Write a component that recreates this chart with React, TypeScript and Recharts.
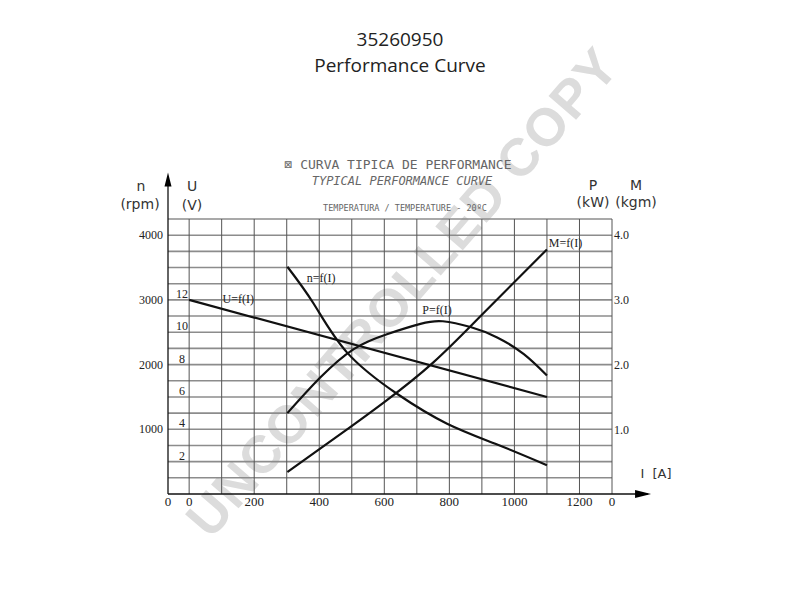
import React from 'react';
import { ComposedChart, Line, XAxis, YAxis, ReferenceLine, ReferenceDot } from 'recharts';

// ---- axes / ticks ----
const currentTicks = [0, 200, 400, 600, 800, 1000, 1200];
const currentDomain: [number, number] = [-65, 1300];
const rpmTicks = [1000, 2000, 3000, 4000];
const rpmDomain: [number, number] = [0, 4250];
const voltTicks = [2, 4, 6, 8, 10, 12];
const rpmPerVolt = 250;
const powerTicks = [1.0, 2.0, 3.0, 4.0];
const powerDomain: [number, number] = [0, 4.25];

// ---- series ----
const voltageData = [
  { I: 0, v: 12 },
  { I: 1100, v: 6 },
];
const speedData = [
  { I: 302, v: 3512 },
  { I: 383, v: 2940 },
  { I: 485, v: 2189 },
  { I: 639, v: 1549 },
  { I: 793, v: 1087 },
  { I: 947, v: 765 },
  { I: 1100, v: 446 },
];
const powerData = [
  { I: 302, v: 1.25 },
  { I: 403, v: 1.8 },
  { I: 506, v: 2.24 },
  { I: 608, v: 2.47 },
  { I: 711, v: 2.63 },
  { I: 780, v: 2.67 },
  { I: 865, v: 2.58 },
  { I: 947, v: 2.42 },
  { I: 1029, v: 2.16 },
  { I: 1100, v: 1.83 },
];
const torqueData = [
  { I: 302, v: 0.34 },
  { I: 450, v: 0.87 },
  { I: 600, v: 1.42 },
  { I: 750, v: 2.03 },
  { I: 900, v: 2.77 },
  { I: 1100, v: 3.78 },
];

// ---- curve labels (data coords) ----
const curveLabels = [
  { text: 'U=f(I)', I: 151, y: 3015, axis: 'n' },
  { text: 'n=f(I)', I: 406, y: 3338, axis: 'n' },
  { text: 'P=f(I)', I: 762, y: 2.85, axis: 'pm' },
  { text: 'M=f(I)', I: 1157, y: 3.88, axis: 'pm' },
];

const gridCurrent: number[] = [];
for (let v = 0; v <= currentDomain[1]; v += 100) gridCurrent.push(v);
const gridRpm: number[] = [];
for (let v = 250; v <= rpmDomain[1]; v += 250) gridRpm.push(v);

const axisTipCurrent = 1420;
const axisTipRpm = 4970;

const leftTicks = Array.from(new Set([...rpmTicks, ...voltTicks.map((u) => u * rpmPerVolt)])).sort((a, b) => a - b);

const tickFont = 'Liberation Serif, DejaVu Serif, serif';

const LeftTick = (props: any) => {
  const { x, y, payload } = props;
  const v = payload.value;
  const u = v / rpmPerVolt;
  return (
    <g>
      {rpmTicks.includes(v) && (
        <text x={x} y={y} dy={4} textAnchor="end" fontSize={12} fontFamily={tickFont} fill="#222">
          {v}
        </text>
      )}
      {voltTicks.includes(u) && (
        <text x={x + 19} y={y - 6} dy={4} textAnchor="middle" fontSize={12} fontFamily={tickFont} fill="#222">
          {u}
        </text>
      )}
    </g>
  );
};

const ArrowRight = (p: any) => (
  <polygon points={`${p.cx},${p.cy} ${p.cx - 16},${p.cy - 4} ${p.cx - 16},${p.cy + 4}`} fill="#000" />
);
const ArrowUp = (p: any) => (
  <polygon points={`${p.cx},${p.cy} ${p.cx - 3.5},${p.cy + 14} ${p.cx + 3.5},${p.cy + 14}`} fill="#000" />
);

const abs = (left: number, top: number, extra: React.CSSProperties = {}): React.CSSProperties => ({
  position: 'absolute',
  left,
  top,
  transform: 'translate(-50%, -50%)',
  whiteSpace: 'nowrap',
  lineHeight: 1,
  ...extra,
});

const unitFont: React.CSSProperties = { fontFamily: 'DejaVu Sans, sans-serif', fontSize: 14, color: '#333' };

export default function App() {
  return (
    <div style={{ position: 'absolute', left: 0, top: 0, width: 800, height: 600, background: '#fff', overflow: 'hidden' }}>
      {/* watermark */}
      <div
        style={abs(402, 292, {
          transform: 'translate(-50%, -50%) rotate(-49deg)',
          fontFamily: 'Liberation Sans, Arial, sans-serif',
          fontWeight: 'bold',
          fontSize: 53,
          color: '#dcdcdc',
          letterSpacing: 1,
        })}
      >
        UNCONTROLLED COPY
      </div>

      {/* titles */}
      <div style={abs(400, 39, { fontFamily: 'Open Sans, sans-serif', fontSize: 19, color: '#222' })}>35260950</div>
      <div style={abs(400, 65, { fontFamily: 'Open Sans, sans-serif', fontSize: 19, color: '#222' })}>Performance Curve</div>

      <div style={abs(398, 164, { fontFamily: 'DejaVu Sans Mono, monospace', fontSize: 13, color: '#666' })}>
        ⊠ CURVA TIPICA DE PERFORMANCE
      </div>
      <div style={abs(402, 181, { fontFamily: 'DejaVu Sans Mono, monospace', fontSize: 12, color: '#666', fontStyle: 'italic' })}>
        TYPICAL PERFORMANCE CURVE
      </div>
      <div style={abs(405, 208, { fontFamily: 'DejaVu Sans Mono, monospace', fontSize: 8.5, color: '#666' })}>
        TEMPERATURA / TEMPERATURE - 20ºC
      </div>

      {/* axis units */}
      <div style={abs(141, 186, unitFont)}>n</div>
      <div style={abs(140, 204, unitFont)}>(rpm)</div>
      <div style={abs(192, 186, unitFont)}>U</div>
      <div style={abs(192, 205, unitFont)}>(V)</div>
      <div style={abs(593, 185, unitFont)}>P</div>
      <div style={abs(593, 202, unitFont)}>(kW)</div>
      <div style={abs(636, 185, unitFont)}>M</div>
      <div style={abs(636, 202, unitFont)}>(kgm)</div>
      <div style={abs(656, 473, { ...unitFont, fontSize: 13 })}>I&nbsp;&nbsp;[A]</div>

      <div style={{ position: 'absolute', left: 0, top: 0 }}>
        <ComposedChart width={800} height={600} margin={{ top: 219, right: 148, bottom: 76, left: 108 }}>
          <XAxis
            type="number"
            dataKey="I"
            domain={currentDomain}
            ticks={[currentDomain[0], ...currentTicks, currentDomain[1]]}
            tickFormatter={(v: number) => (currentTicks.includes(v) ? String(v) : '0')}
            axisLine={false}
            tickLine={false}
            tickSize={0}
            tickMargin={3}
            height={30}
            interval={0}
            allowDataOverflow
            tick={{ fontSize: 13, fontFamily: tickFont, fill: '#222' }}
          />
          <YAxis
            yAxisId="n"
            orientation="left"
            type="number"
            domain={rpmDomain}
            ticks={leftTicks}
            interval={0}
            axisLine={false}
            tickLine={false}
            tickSize={3}
            tickMargin={2}
            width={60}
            tick={<LeftTick />}
          />
          <YAxis
            yAxisId="pm"
            orientation="right"
            type="number"
            domain={powerDomain}
            ticks={powerTicks}
            interval={0}
            axisLine={false}
            tickLine={false}
            tickSize={0}
            tickMargin={2}
            width={40}
            tickFormatter={(v: number) => v.toFixed(1)}
            tick={{ fontSize: 12, fontFamily: tickFont, fill: '#222', textAnchor: 'start' }}
          />
          <YAxis yAxisId="u" hide type="number" domain={[0, rpmDomain[1] / rpmPerVolt]} />

          {gridRpm.map((v) => (
            <ReferenceLine key={'h' + v} yAxisId="n" y={v} stroke="#8c8c8c" strokeWidth={1.6} />
          ))}
          {gridCurrent.map((v) => (
            <ReferenceLine key={'v' + v} yAxisId="n" x={v} stroke="#555" strokeWidth={1} />
          ))}

          <ReferenceLine
            yAxisId="n"
            segment={[{ x: currentDomain[0], y: 0 }, { x: axisTipCurrent - 10, y: 0 }]}
            ifOverflow="visible"
            stroke="#111"
            strokeWidth={1.3}
          />
          <ReferenceLine
            yAxisId="n"
            segment={[{ x: currentDomain[0], y: 0 }, { x: currentDomain[0], y: axisTipRpm - 100 }]}
            ifOverflow="visible"
            stroke="#111"
            strokeWidth={1.3}
          />
          <ReferenceDot yAxisId="n" x={axisTipCurrent} y={0} r={0} ifOverflow="visible" shape={ArrowRight} />
          <ReferenceDot yAxisId="n" x={currentDomain[0]} y={axisTipRpm} r={0} ifOverflow="visible" shape={ArrowUp} />

          <Line yAxisId="u" data={voltageData} dataKey="v" type="linear" stroke="#111" strokeWidth={2.2} dot={false} isAnimationActive={false} />
          <Line yAxisId="n" data={speedData} dataKey="v" type="natural" stroke="#111" strokeWidth={2.2} dot={false} isAnimationActive={false} />
          <Line yAxisId="pm" data={powerData} dataKey="v" type="natural" stroke="#111" strokeWidth={2.2} dot={false} isAnimationActive={false} />
          <Line yAxisId="pm" data={torqueData} dataKey="v" type="natural" stroke="#111" strokeWidth={2.2} dot={false} isAnimationActive={false} />

          {curveLabels.map((l) => (
            <ReferenceDot
              key={l.text}
              yAxisId={l.axis}
              x={l.I}
              y={l.y}
              r={0}
              ifOverflow="visible"
              shape={(p: any) => (
                <text x={p.cx} y={p.cy} dy={4} textAnchor="middle" fontSize={12} fontFamily={tickFont} fill="#222">
                  {l.text}
                </text>
              )}
            />
          ))}
        </ComposedChart>
      </div>
    </div>
  );
}
